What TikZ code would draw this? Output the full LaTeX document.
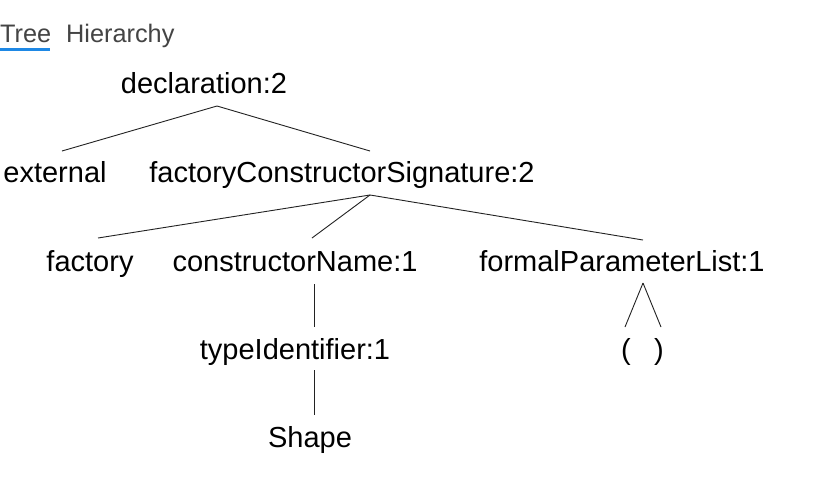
\documentclass[tikz,border=0pt]{standalone}
\usepackage{fontspec}
\setmainfont{Liberation Sans}
\definecolor{tabgray}{HTML}{444444}
\definecolor{tabblue}{HTML}{1E88E5}
\definecolor{edgegray}{HTML}{222222}
\begin{document}
\begin{tikzpicture}[x=1pt,y=-1pt,
  lbl/.style={anchor=base,inner sep=0pt,font=\fontsize{29}{34}\selectfont,text=black},
  tab/.style={anchor=base west,inner sep=0pt,font=\fontsize{25.3}{30}\selectfont,text=tabgray},
  edge/.style={draw=edgegray,line width=0.9pt}]
\useasboundingbox (0,0) rectangle (838,496);
\fill[white] (0,0) rectangle (838,496);
% tabs
\node[tab] (tabtree) at (0,42) {Tree};
\node[tab] (tabhier) at (66,42) {Hierarchy};
\fill[tabblue] (0,47.5) rectangle (50,50.5);
% nodes
\node[lbl] (decl) at (204,93) {declaration:2};
\node[lbl] (ext) at (55,182) {external};
\node[lbl] (fcs) at (342,182) {factoryConstructorSignature:2};
\node[lbl] (fac) at (90,271) {factory};
\node[lbl] (cn) at (295,271) {constructorName:1};
\node[lbl] (fpl) at (622,271) {formalParameterList:1};
\node[lbl] (tid) at (295,359) {typeIdentifier:1};
\node[lbl] (lp) at (626,359) {(};
\node[lbl] (rp) at (659,359) {)};
\node[lbl] (shape) at (310,447) {Shape};
% connector ends
\coordinate (declB) at (217,106);
\coordinate (extT) at (62,151);
\coordinate (fcsT) at (370,151);
\coordinate (fcsB) at (370,195);
\coordinate (facT) at (98,238);
\coordinate (cnT) at (312,238);
\coordinate (fplT) at (643,240);
\coordinate (cnB) at (314,284);
\coordinate (tidT) at (314,327);
\coordinate (tidB) at (314,370);
\coordinate (shapeT) at (314,415);
\coordinate (fplB) at (643,283);
\coordinate (lpT) at (625,327);
\coordinate (rpT) at (661,327);
% connectors
\draw[edge] (declB) -- (extT);
\draw[edge] (declB) -- (fcsT);
\draw[edge] (fcsB) -- (facT);
\draw[edge] (fcsB) -- (cnT);
\draw[edge] (fcsB) -- (fplT);
\draw[edge] (cnB) -- (tidT);
\draw[edge] (tidB) -- (shapeT);
\draw[edge] (fplB) -- (lpT);
\draw[edge] (fplB) -- (rpT);
\end{tikzpicture}
\end{document}
